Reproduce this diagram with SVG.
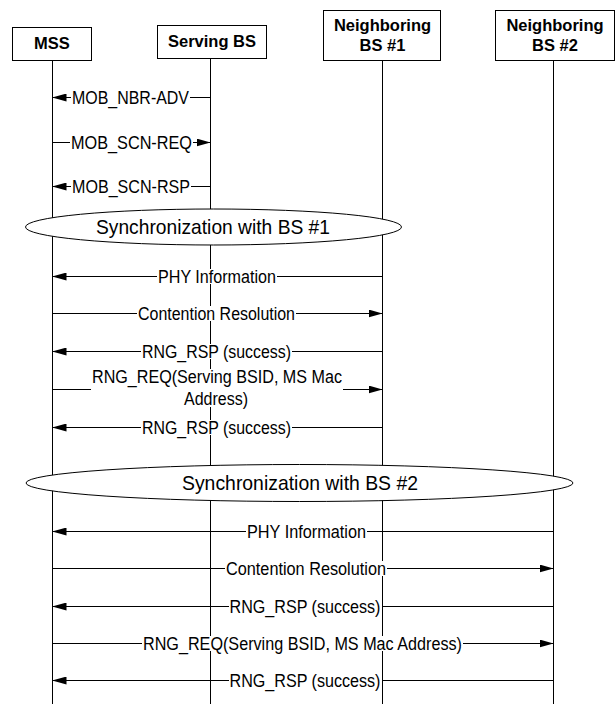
<svg xmlns="http://www.w3.org/2000/svg" width="616" height="704" viewBox="0 0 616 704">
<style>
  .box { fill: #fff; stroke: #000; stroke-width: 1; }
  .life { stroke: #000; stroke-width: 1; fill: none; }
  .msg { stroke: #000; stroke-width: 1; fill: none; }
  .bg { fill: #fff; stroke: none; }
  .hdr { font-family: "Liberation Sans", Arial, sans-serif; font-size: 16.5px; font-weight: bold; fill: #000; text-anchor: middle; }
  .lbl { font-family: "Liberation Sans", Arial, sans-serif; font-size: 17.5px; fill: #000; text-anchor: middle; }
  .sync { font-family: "Liberation Sans", Arial, sans-serif; font-size: 21px; fill: #000; text-anchor: middle; }
  .ell { fill: #fff; stroke: #000; stroke-width: 1; }
</style>
<defs>
  <marker id="ah" viewBox="0 0 14 8" refX="14" refY="4" markerWidth="14" markerHeight="8" markerUnits="userSpaceOnUse" orient="auto">
    <path d="M0,0 L14,4 L0,8 z" fill="#000"/>
  </marker>
</defs>
<rect width="616" height="704" fill="#fff"/>

<g id="lifelines">
  <line class="life" x1="52.5" y1="60" x2="52.5" y2="704"/>
  <line class="life" x1="210.5" y1="58" x2="210.5" y2="704"/>
  <line class="life" x1="382.5" y1="60" x2="382.5" y2="704"/>
  <line class="life" x1="553.5" y1="60" x2="553.5" y2="704"/>
</g>

<g id="node-mss">
  <rect class="box" x="12.5" y="27.5" width="79" height="33"/>
  <text class="hdr" x="52" y="48.5">MSS</text>
</g>
<g id="node-serving-bs">
  <rect class="box" x="157.5" y="25.5" width="109" height="33"/>
  <text class="hdr" x="212" y="46.5">Serving BS</text>
</g>
<g id="node-nbs1">
  <rect class="box" x="323.5" y="10.5" width="117" height="50"/>
  <text class="hdr" x="382.5" y="31">Neighboring</text>
  <text class="hdr" x="382.5" y="51">BS #1</text>
</g>
<g id="node-nbs2">
  <rect class="box" x="495.5" y="10.5" width="119" height="50"/>
  <text class="hdr" x="555" y="31">Neighboring</text>
  <text class="hdr" x="555" y="51">BS #2</text>
</g>

<g id="sync1">
  <ellipse class="ell" cx="213.5" cy="227" rx="188" ry="18"/>
  <text class="sync" x="213" y="233.5" textLength="234" lengthAdjust="spacingAndGlyphs">Synchronization with BS #1</text>
</g>
<g id="sync2">
  <ellipse class="ell" cx="299.5" cy="483" rx="273.5" ry="18.5"/>
  <text class="sync" x="300" y="489.5" textLength="236" lengthAdjust="spacingAndGlyphs">Synchronization with BS #2</text>
</g>

<g id="connectors">
  <line class="msg" x1="210.5" y1="97.5" x2="52.5" y2="97.5" marker-end="url(#ah)"/>
  <line class="msg" x1="52.5" y1="142.5" x2="210.5" y2="142.5" marker-end="url(#ah)"/>
  <line class="msg" x1="210.5" y1="186.5" x2="52.5" y2="186.5" marker-end="url(#ah)"/>

  <line class="msg" x1="382.5" y1="276.5" x2="52.5" y2="276.5" marker-end="url(#ah)"/>
  <line class="msg" x1="52.5" y1="313.5" x2="382.5" y2="313.5" marker-end="url(#ah)"/>
  <line class="msg" x1="382.5" y1="351.5" x2="52.5" y2="351.5" marker-end="url(#ah)"/>
  <line class="msg" x1="52.5" y1="389.5" x2="382.5" y2="389.5" marker-end="url(#ah)"/>
  <line class="msg" x1="382.5" y1="427.5" x2="52.5" y2="427.5" marker-end="url(#ah)"/>

  <line class="msg" x1="553.5" y1="531.5" x2="52.5" y2="531.5" marker-end="url(#ah)"/>
  <line class="msg" x1="52.5" y1="568.5" x2="553.5" y2="568.5" marker-end="url(#ah)"/>
  <line class="msg" x1="553.5" y1="606.5" x2="52.5" y2="606.5" marker-end="url(#ah)"/>
  <line class="msg" x1="52.5" y1="643.5" x2="553.5" y2="643.5" marker-end="url(#ah)"/>
  <line class="msg" x1="553.5" y1="680.5" x2="52.5" y2="680.5" marker-end="url(#ah)"/>

  <!-- label backgrounds -->
  <rect class="bg" x="71" y="90" width="119" height="15"/>
  <rect class="bg" x="70" y="135" width="123" height="15"/>
  <rect class="bg" x="71" y="179" width="120" height="15"/>

  <rect class="bg" x="157" y="269" width="120" height="15"/>
  <rect class="bg" x="137" y="306" width="159" height="15"/>
  <rect class="bg" x="141" y="344" width="151" height="15"/>
  <rect class="bg" x="91" y="369" width="252" height="16"/>
  <rect class="bg" x="91" y="385" width="252" height="9"/>
  <rect class="bg" x="183" y="392" width="66" height="15"/>
  <rect class="bg" x="141" y="420" width="151" height="15"/>

  <rect class="bg" x="246" y="524" width="121" height="15"/>
  <rect class="bg" x="225" y="561" width="162" height="15"/>
  <rect class="bg" x="229" y="599" width="153" height="15"/>
  <rect class="bg" x="142" y="636" width="321" height="15"/>
  <rect class="bg" x="229" y="673" width="153" height="15"/>

  <text class="lbl" x="130.5" y="103.5" textLength="117" lengthAdjust="spacingAndGlyphs">MOB_NBR-ADV</text>
  <text class="lbl" x="131.5" y="148.5" textLength="121" lengthAdjust="spacingAndGlyphs">MOB_SCN-REQ</text>
  <text class="lbl" x="131" y="192.5" textLength="118" lengthAdjust="spacingAndGlyphs">MOB_SCN-RSP</text>

  <text class="lbl" x="217" y="282.5" textLength="118" lengthAdjust="spacingAndGlyphs">PHY Information</text>
  <text class="lbl" x="216.5" y="319.5" textLength="157" lengthAdjust="spacingAndGlyphs">Contention Resolution</text>
  <text class="lbl" x="216.5" y="357.5" textLength="149" lengthAdjust="spacingAndGlyphs">RNG_RSP (success)</text>
  <text class="lbl" x="217" y="383" textLength="250" lengthAdjust="spacingAndGlyphs">RNG_REQ(Serving BSID, MS Mac</text>
  <text class="lbl" x="216" y="405" textLength="64" lengthAdjust="spacingAndGlyphs">Address)</text>
  <text class="lbl" x="216.5" y="433.5" textLength="149" lengthAdjust="spacingAndGlyphs">RNG_RSP (success)</text>

  <text class="lbl" x="306.5" y="537.5" textLength="119" lengthAdjust="spacingAndGlyphs">PHY Information</text>
  <text class="lbl" x="306" y="574.5" textLength="160" lengthAdjust="spacingAndGlyphs">Contention Resolution</text>
  <text class="lbl" x="305" y="612.5" textLength="151" lengthAdjust="spacingAndGlyphs">RNG_RSP (success)</text>
  <text class="lbl" x="302.5" y="649.5" textLength="319" lengthAdjust="spacingAndGlyphs">RNG_REQ(Serving BSID, MS Mac Address)</text>
  <text class="lbl" x="305" y="686.5" textLength="151" lengthAdjust="spacingAndGlyphs">RNG_RSP (success)</text>
</g>
</svg>
